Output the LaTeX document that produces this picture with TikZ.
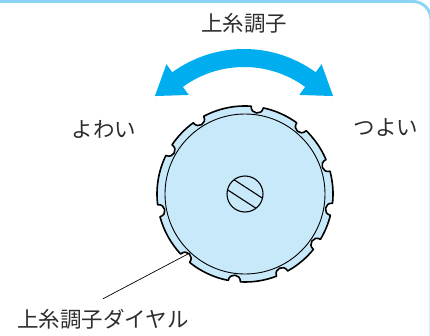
\documentclass[tikz,border=0pt]{standalone}
\usepackage{fontspec}
\usepackage{tikz}
\usetikzlibrary{positioning,calc}
\newfontfamily\jpfont{Noto Sans CJK JP}
\definecolor{colorarrow} {RGB}{0  ,174,239}
\definecolor{colordial}  {RGB}{200,233,250}
\definecolor{colorframe} {RGB}{140,212,245}
\definecolor{colortext}  {RGB}{45 ,45 ,45 }

\begin{document}
\begin{tikzpicture}[
    x=1pt, y=1pt,
    font={\jpfont\fontsize{21.5}{26}\selectfont},
    txt/.style={text=colortext,inner sep=0pt,align=center},
    rim/.style={draw=black,line width=1.6pt,fill=colordial,line join=round},
    face/.style={circle,draw=black,line width=0.9pt,fill=colordial,minimum size=160pt,inner sep=0pt},
    screwhead/.style={circle,draw=black,line width=1.1pt,minimum size=36pt,inner sep=0pt},
    leader/.style={draw=black,line width=0.7pt},
]
    \useasboundingbox (0,0) rectangle (430,335);

    % Frame
    \begin{scope}
        \clip (0,0) rectangle (430,335);
        \draw[colorframe,line width=3pt,rounded corners=18pt] (-20,-20) rectangle (431,333.5);
    \end{scope}

    % Dial
    \coordinate (center) at (245,141);
    \draw[rim] ($(center)+(23:88)$)
        \foreach \a/\b in {19/50,50/82,82/122,122/150,150/191,191/227,227/263,263/295,295/325,325/350,350/379} {
            arc[start angle=\a+4, end angle=\b-4, radius=88]
            .. controls ($(center)+(\b-4:80)$) and ($(center)+(\b+4:80)$) .. ($(center)+(\b+4:88)$)
        } -- cycle;
    \node[face]      (dial)  at (center) {};
    \node[screwhead] (screw) at (center) {};
    \begin{scope}[shift={(screw)}, rotate=-33]
        \draw[line width=1.1pt] (-17,6) -- (17,6) (-17,-6) -- (17,-6);
    \end{scope}

    % Arrow
    \coordinate (pivot) at (244,164);
    \fill[colorarrow] ($(pivot)+(126:122)$) arc[start angle=126, end angle=54, radius=122]
        -- ($(pivot)+(54:132)$) -- ($(pivot)+(54:113)+(-36:28)$) -- ($(pivot)+(54:94)$)
        -- ($(pivot)+(54:104)$) arc[start angle=54, end angle=126, radius=104]
        -- ($(pivot)+(126:94)$) -- ($(pivot)+(126:113)+(216:28)$) -- ($(pivot)+(126:132)$) -- cycle;

    % Text
    \node[txt] (title)   at (244,312) {上糸調子};
    \node[txt] (weak)    at (104,206) {よわい};
    \node[txt] (strong)  at (386,207) {つよい};
    \node[txt] (dialtxt) at (103,16)  {上糸調子ダイヤル};

    % Leader
    \draw[leader] (dial.227) -- ([yshift=10pt]dialtxt.north);

\end{tikzpicture}
\end{document}
